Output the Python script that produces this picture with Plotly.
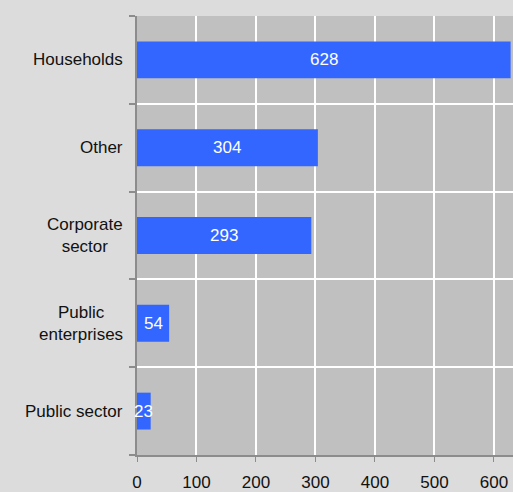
import plotly.graph_objects as go

# Sector breakdown (values shown inside the bars)
categories = ["Households", "Other", "Corporate<br>sector", "Public<br>enterprises", "Public sector"]
values = [628, 304, 293, 54, 23]
x_ticks = [0, 100, 200, 300, 400, 500, 600]

FONT = "Liberation Sans, Arial, sans-serif"
BAR_COLOR = "#3366ff"
AXIS_COLOR = "#8c8c8c"
TEXT_COLOR = "#111111"

fig = go.Figure()
fig.add_trace(go.Bar(
    x=values,
    y=categories,
    orientation="h",
    marker=dict(color=BAR_COLOR, line=dict(width=0)),
    width=0.42,
    hoverinfo="x+y",
))

# Value labels centred on each bar
for cat, v in zip(categories, values):
    fig.add_annotation(
        x=v / 2, y=cat, xref="x", yref="y",
        text=str(v), showarrow=False,
        font=dict(family=FONT, size=17, color="white"),
        xanchor="center", yanchor="middle",
    )

# Category labels, centred multi-line text right-aligned against the axis
for cat in categories:
    fig.add_annotation(
        x=0, y=cat, xref="paper", yref="y",
        text=cat, showarrow=False, align="center",
        xanchor="right", yanchor="middle", xshift=-12,
        font=dict(family=FONT, size=17, color=TEXT_COLOR),
    )

fig.update_layout(
    width=513, height=492,
    margin=dict(l=137, r=0, t=16, b=34),
    paper_bgcolor="#dcdcdc",
    plot_bgcolor="#c0c0c0",
    showlegend=False,
    font=dict(family=FONT, size=16, color=TEXT_COLOR),
)

fig.update_xaxes(
    range=[0, 632],
    tickmode="array", tickvals=x_ticks, ticktext=[str(t) for t in x_ticks],
    showgrid=True, gridcolor="white", gridwidth=2,
    showline=True, linecolor=AXIS_COLOR, linewidth=2,
    ticks="outside", ticklen=5, tickcolor=AXIS_COLOR, tickwidth=1,
    ticklabelstandoff=6,
    tickfont=dict(family=FONT, size=17, color=TEXT_COLOR),
    zeroline=False, fixedrange=True,
)

fig.update_yaxes(
    categoryorder="array", categoryarray=categories[::-1],
    range=[-0.5, 4.5],
    tickson="boundaries",
    showticklabels=False,
    showgrid=True, gridcolor="white", gridwidth=2,
    showline=True, linecolor=AXIS_COLOR, linewidth=2,
    ticks="outside", ticklen=6, tickcolor=AXIS_COLOR, tickwidth=2,
    fixedrange=True,
)

fig.write_html("out.html")
